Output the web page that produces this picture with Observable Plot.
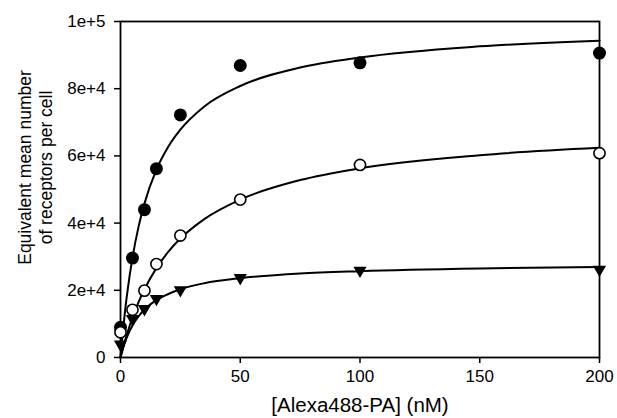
<!DOCTYPE html>
<html>
<head>
<meta charset="utf-8">
<script src="https://cdn.jsdelivr.net/npm/d3@7"></script>
<script src="https://cdn.jsdelivr.net/npm/@observablehq/plot@0.6"></script>
<style>
  html, body { margin: 0; padding: 0; background: #fff; }
  svg { font-family: "Liberation Sans", Arial, sans-serif; }
</style>
</head>
<body>
<div id="chart"></div>
<script>
// Measured data (concentration in nM)
const xVals = [0, 5, 10, 15, 25, 50, 100, 200];
const filledY = [9000, 29600, 44000, 56200, 72200, 86900, 87700, 90600];
const openY = [7500, 14200, 19900, 27800, 36300, 47000, 57300, 60800];
const triY = [3900, 11500, 14500, 17500, 20100, 23700, 25900, 26200];

// Fitted curves at these concentrations
const curveX = [0, 1, 2, 3, 5, 7.5, 10, 15, 20, 25, 35, 50, 75, 100, 150, 200];
const filledCurve = [0, 7800, 14500, 20200, 29700, 38800, 45800, 55900, 62800, 67800, 74700, 80800, 86300, 89300, 92600, 94300];
const openCurve = [0, 2750, 5300, 7600, 11900, 16400, 20300, 26600, 31500, 35400, 41200, 47000, 52800, 56300, 60200, 62400];
const triCurve = [0, 2600, 4800, 6600, 9500, 12200, 14300, 17100, 18900, 20300, 22100, 23600, 25000, 25700, 26500, 26900];

// Axis ticks
const xTicks = [0, 50, 100, 150, 200];
const yTicks = [0, 20000, 40000, 60000, 80000, 100000];
const yTickLabels = ["0", "2e+4", "4e+4", "6e+4", "8e+4", "1e+5"];

const xLabel = "[Alexa488-PA] (nM)";
const yLabel = "Equivalent mean number\nof receptors per cell";

const toPts = (xs, ys) => xs.map((x, i) => ({x, y: ys[i]}));
const filledPts = toPts(xVals, filledY);
const openPts = toPts(xVals, openY);
const triPts = toPts(xVals, triY);
const filledLine = toPts(curveX, filledCurve);
const openLine = toPts(curveX, openCurve);
const triLine = toPts(curveX, triCurve);

const chart = Plot.plot({
  width: 617,
  height: 418,
  marginLeft: 120,
  marginRight: 18,
  marginTop: 21,
  marginBottom: 61,
  style: {fontFamily: "'Liberation Sans', Arial, sans-serif", fontSize: "17px", background: "white", color: "black"},
  x: {domain: [0, 200]},
  y: {domain: [0, 100000]},
  marks: [
    Plot.axisX({ticks: xTicks, tickSize: 6, tickPadding: 6, fontSize: 17, label: null, strokeWidth: 1.5, tickFormat: d => String(d)}),
    Plot.axisY({ticks: yTicks, tickSize: 6, tickPadding: 9, fontSize: 17, label: null, strokeWidth: 1.5,
      tickFormat: d => yTickLabels[yTicks.indexOf(d)]}),
    Plot.frame({stroke: "black", strokeWidth: 1.8}),
    Plot.line(triLine, {x: "x", y: "y", curve: "monotone-x", stroke: "black", strokeWidth: 2}),
    Plot.line(filledLine, {x: "x", y: "y", curve: "monotone-x", stroke: "black", strokeWidth: 2}),
    Plot.line(openLine, {x: "x", y: "y", curve: "monotone-x", stroke: "black", strokeWidth: 2}),
    Plot.dot(triPts, {x: "x", y: "y", symbol: "triangle", rotate: 180, r: 4.9, fill: "black", stroke: "none"}),
    Plot.dot(filledPts, {x: "x", y: "y", symbol: "circle", r: 6.5, fill: "black", stroke: "none"}),
    Plot.dot(openPts, {x: "x", y: "y", symbol: "circle", r: 5.6, fill: "white", stroke: "black", strokeWidth: 1.6}),
    Plot.text([xLabel], {frameAnchor: "bottom", dy: 48, text: d => d, fontSize: 20.5, lineAnchor: "middle", textAnchor: "middle", fill: "black"}),
    Plot.text([yLabel], {frameAnchor: "left", dx: -86, dy: -22, rotate: -90, text: d => d, fontSize: 17.5, lineAnchor: "middle", textAnchor: "middle", lineHeight: 1.25, fill: "black"})
  ]
});
document.getElementById("chart").appendChild(chart);
</script>
</body>
</html>
